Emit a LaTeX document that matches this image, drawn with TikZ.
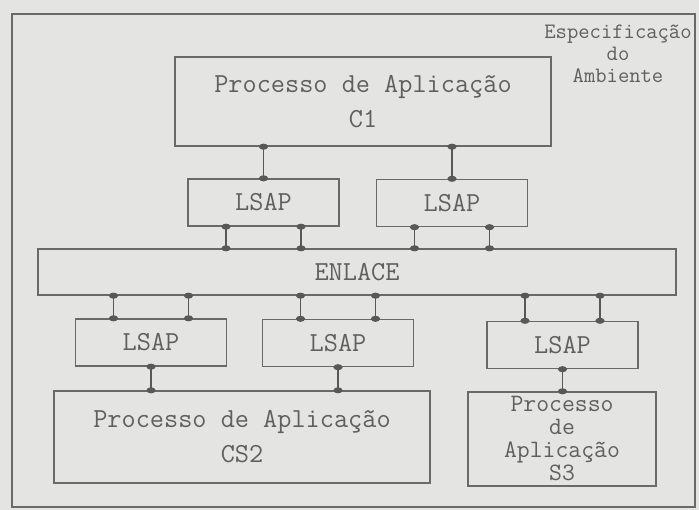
\documentclass[tikz,border=0pt]{standalone}
\usepackage{fontspec}
\usetikzlibrary{arrows.meta}
\definecolor{bgc}{RGB}{228,228,226}
\definecolor{linec}{RGB}{88,88,88}
\definecolor{boxc}{RGB}{105,105,105}
\definecolor{txtc}{RGB}{95,95,95}
\tikzset{
  box/.style={draw=boxc, line width=1.4pt, inner sep=0pt, text=txtc, align=center,
    font=\ttfamily\fontsize{27.5}{35}\selectfont},
  lsapbox/.style={box, minimum width=151pt, minimum height=47pt},
  link/.style={draw=linec, line width=1.4pt,
    {Circle[length=6pt,width=9pt]}-{Circle[length=6pt,width=9pt]},
    shorten <=-3pt, shorten >=-3pt},
}
\begin{document}
\begin{tikzpicture}[x=1pt,y=-1pt]
\useasboundingbox (0,0) rectangle (699,510);
\fill[bgc] (0,0) rectangle (699,510);
% frame
\node[draw=boxc, line width=1.4pt, minimum width=683pt, minimum height=493pt, inner sep=0pt]
  (frame) at (353.5,260.5) {};
\node[text=txtc, align=center, font=\ttfamily\fontsize{22}{22}\selectfont]
  (envlabel) at (618,54) {Especificação\\do\\Ambiente};
% boxes
\node[box, minimum width=376pt, minimum height=89pt] (c1) at (363,101.5)
  {Processo de Aplicação\\C1};
\node[lsapbox] (lsapA) at (263.5,202.5) {LSAP};
\node[lsapbox] (lsapB) at (452,203) {LSAP};
\node[box, minimum width=638pt, minimum height=46pt] (enlace) at (357,272) {ENLACE};
\node[lsapbox] (lsap1) at (151,342.5) {LSAP};
\node[lsapbox] (lsap2) at (338,343) {LSAP};
\node[lsapbox] (lsap3) at (562.5,345) {LSAP};
\node[box, minimum width=376pt, minimum height=92pt] (cs2) at (242,437)
  {Processo de Aplicação\\CS2};
\node[box, minimum width=188pt, minimum height=94pt,
  font=\ttfamily\fontsize{25}{23}\selectfont] (s3) at (562,439)
  {Processo\\de\\Aplicação\\S3};
% connectors C1 - LSAP
\draw[link] (c1.south -| lsapA.north) -- (lsapA.north);
\draw[link] (c1.south -| lsapB.north) -- (lsapB.north);
% upper LSAP - ENLACE
\foreach \n in {lsapA,lsapB}{
  \draw[link] ([xshift=-37.5pt]\n.south) -- ([xshift=-37.5pt]\n.south |- enlace.north);
  \draw[link] ([xshift=37.5pt]\n.south) -- ([xshift=37.5pt]\n.south |- enlace.north);
}
% ENLACE - lower LSAP
\foreach \n in {lsap1,lsap2,lsap3}{
  \draw[link] ([xshift=-37.5pt]\n.north |- enlace.south) -- ([xshift=-37.5pt]\n.north);
  \draw[link] ([xshift=37.5pt]\n.north |- enlace.south) -- ([xshift=37.5pt]\n.north);
}
% lower LSAP - processes
\draw[link] (lsap1.south) -- (lsap1.south |- cs2.north);
\draw[link] (lsap2.south) -- (lsap2.south |- cs2.north);
\draw[link] (lsap3.south) -- (lsap3.south |- s3.north);
\end{tikzpicture}
\end{document}
